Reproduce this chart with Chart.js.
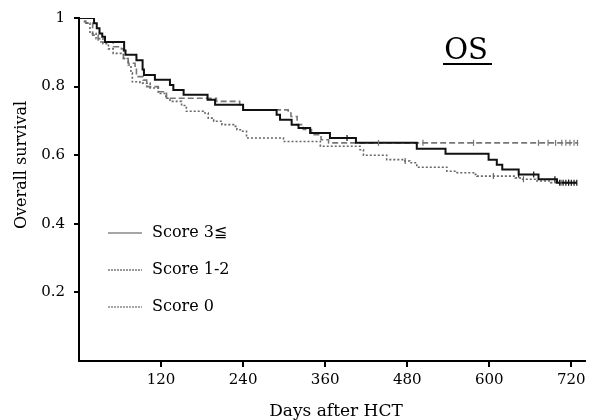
<!DOCTYPE html>
<html>
<head>
<meta charset="utf-8">
<script src="https://cdn.jsdelivr.net/npm/chart.js@4.4.1/dist/chart.umd.min.js"></script>
<style>
html,body{margin:0;padding:0;background:#fff;}
#wrap{width:594px;height:420px;}
</style>
</head>
<body>
<div id="wrap"><canvas id="c" width="594" height="420"></canvas></div>
<script>
// ---- data ----
const chartTitle = 'OS';
const xTitle = 'Days after HCT';
const yTitle = 'Overall survival';
const seriesLabels = ['Score 3≦', 'Score 1-2', 'Score 0'];
const xTicks = [120, 240, 360, 480, 600, 720];
const yTicks = [0.2, 0.4, 0.6, 0.8, 1];

const score3Days = [0,22,26,30,34,38,66,68,84,93,95,111,133,138,153,188,199,240,289,294,311,321,338,367,405,494,536,599,611,619,643,672,699,728];
const score3Surv = [1,0.985,0.97,0.955,0.945,0.93,0.905,0.893,0.877,0.85,0.834,0.82,0.805,0.79,0.776,0.762,0.747,0.732,0.718,0.703,0.689,0.679,0.665,0.65,0.636,0.619,0.604,0.587,0.572,0.558,0.544,0.53,0.52,0.52];
const score3Cens = [392,643,665,696,703,708,712,716,720,724,728];

const score12Days = [0,8,16,25,35,43,50,65,72,76,78,89,104,116,127,133,150,157,182,189,197,209,226,231,238,245,299,353,411,416,450,475,484,494,538,553,577,582,638,645,668,690,728];
const score12Surv = [1,0.985,0.955,0.94,0.925,0.91,0.897,0.882,0.863,0.84,0.814,0.81,0.796,0.78,0.766,0.757,0.745,0.728,0.723,0.708,0.699,0.689,0.684,0.674,0.67,0.65,0.64,0.626,0.616,0.6,0.587,0.583,0.578,0.565,0.553,0.549,0.544,0.539,0.534,0.53,0.525,0.52,0.52];
const score12Cens = [477,606,650,705,716];

const score0Days = [0,10,20,28,50,62,65,72,82,84,94,99,116,128,201,235,240,306,310,319,328,340,354,365,730];
const score0Surv = [1,0.985,0.95,0.93,0.916,0.91,0.882,0.868,0.853,0.829,0.819,0.8,0.785,0.766,0.757,0.747,0.732,0.723,0.713,0.689,0.675,0.66,0.645,0.636,0.636];
const score0Cens = [438,503,577,672,686,697,706,712,718,724,729];

// ---- helpers ----
function pts(days, surv){ return days.map((d,i)=>({x:d, y:surv[i]})); }
function survAt(days, surv, t){ let s = surv[0]; for(let i=0;i<days.length;i++){ if(days[i]<=t) s = surv[i]; } return s; }
function cens(days, surv, times){ return times.map(t=>({x:t, y:survAt(days, surv, t)})); }

const FONT = "'DejaVu Serif', 'Liberation Serif', serif";
const styles = [
  {color:'#111', width:2, dash:[]},
  {color:'#666', width:1.6, dash:[2,2]},
  {color:'#777', width:1.6, dash:[6,3]}
];
const legendColors = ['#888','#777','#888'];

function lineDs(label, data, st){
  return {label, data, borderColor:st.color, borderWidth:st.width, borderDash:st.dash,
    stepped:'before', pointRadius:0, fill:false, tension:0, order:1};
}
function censDs(data, st){
  return {type:'scatter', label:'', data, showLine:false, pointStyle:'line', rotation:90,
    pointRadius:3, borderColor:st.color, borderWidth:1.2, order:0};
}

const overlay = {
  id:'overlay',
  afterDraw(chart){
    const ctx = chart.ctx;
    ctx.save();
    ctx.fillStyle = '#000';
    // title
    ctx.font = '29px ' + FONT;
    ctx.textAlign = 'center';
    ctx.textBaseline = 'alphabetic';
    ctx.fillText(chartTitle, 466, 59);
    ctx.strokeStyle = '#000';
    ctx.lineWidth = 2;
    ctx.beginPath(); ctx.moveTo(443, 64); ctx.lineTo(492, 64); ctx.stroke();
    // x title
    ctx.font = '17px ' + FONT;
    ctx.fillText(xTitle, 336, 416);
    // y title
    ctx.save();
    ctx.translate(26, 165);
    ctx.rotate(-Math.PI/2);
    ctx.font = '16px ' + FONT;
    ctx.fillText(yTitle, 0, 0);
    ctx.restore();
    // legend
    const ys = [233, 270, 307];
    ctx.textAlign = 'left';
    ctx.textBaseline = 'middle';
    ctx.font = '16px ' + FONT;
    seriesLabels.forEach((lab, i)=>{
      ctx.strokeStyle = legendColors[i];
      ctx.lineWidth = 1.6;
      ctx.setLineDash(styles[i].dash.length ? [2,1] : []);
      ctx.beginPath(); ctx.moveTo(108, ys[i]); ctx.lineTo(142, ys[i]); ctx.stroke();
      ctx.setLineDash([]);
      ctx.fillStyle = '#000';
      ctx.fillText(lab, 152, ys[i]);
    });
    ctx.restore();
  }
};

new Chart(document.getElementById('c'), {
  type:'line',
  data:{
    datasets:[
      lineDs(seriesLabels[0], pts(score3Days, score3Surv), styles[0]),
      lineDs(seriesLabels[1], pts(score12Days, score12Surv), styles[1]),
      lineDs(seriesLabels[2], pts(score0Days, score0Surv), styles[2]),
      censDs(cens(score3Days, score3Surv, score3Cens), styles[0]),
      censDs(cens(score12Days, score12Surv, score12Cens), styles[1]),
      censDs(cens(score0Days, score0Surv, score0Cens), styles[2])
    ]
  },
  options:{
    responsive:false,
    devicePixelRatio:1,
    animation:false,
    layout:{padding:{left:0, right:9, top:16, bottom:0}},
    plugins:{legend:{display:false}, tooltip:{enabled:false}},
    scales:{
      x:{
        type:'linear', min:0, max:740,
        afterBuildTicks:(s)=>{ s.ticks = xTicks.map(v=>({value:v})); },
        afterFit:(s)=>{ s.height = 59; },
        ticks:{color:'#000', font:{family:FONT, size:15}, padding:4, maxRotation:0,
          callback:(v)=>String(v)},
        grid:{drawOnChartArea:false, drawTicks:true, tickLength:6, color:'#000', lineWidth:2},
        border:{display:true, color:'#000', width:2}
      },
      y:{
        type:'linear', min:0, max:1,
        afterBuildTicks:(s)=>{ s.ticks = yTicks.map(v=>({value:v})); },
        afterFit:(s)=>{ s.width = 79; },
        ticks:{color:'#000', font:{family:FONT, size:15}, padding:9,
          callback:(v)=> v===1 ? '1' : v.toFixed(1)},
        grid:{drawOnChartArea:false, drawTicks:true, tickLength:5, color:'#000', lineWidth:2},
        border:{display:true, color:'#000', width:2}
      }
    }
  },
  plugins:[overlay]
});
</script>
</body>
</html>
